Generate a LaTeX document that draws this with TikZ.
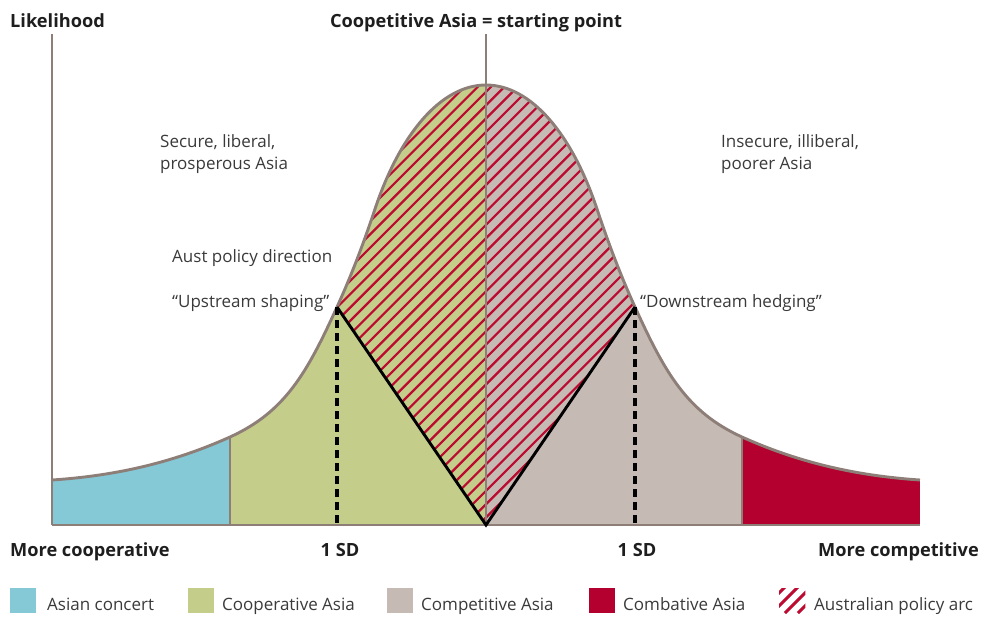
\documentclass[tikz,border=0pt]{standalone}
\usepackage{fontspec}
\setmainfont{Open Sans}
\definecolor{cblue}{HTML}{85C9D7}
\definecolor{cgreen}{HTML}{C4CE8A}
\definecolor{cgrey}{HTML}{C6BAB5}
\definecolor{cred}{HTML}{B3002E}
\definecolor{arcred}{HTML}{BC0A30}
\definecolor{edge}{HTML}{8E7E78}
\definecolor{txt}{HTML}{3A3A3A}
\definecolor{txtb}{HTML}{1E1E1E}
% the bell curve, drawn left to right as cubic segments
\def\bellline{(52,480)
  .. controls (112,476) and (170,464) .. (230,437)
  .. controls (285,412) and (307,373) .. (337,307)
  .. controls (350,278.4) and (362,248) .. (375,209)
  .. controls (400,134) and (441,85) .. (486,85)
  .. controls (531,85) and (572,134) .. (597,209)
  .. controls (610,248) and (622,278.4) .. (635,307)
  .. controls (665,373) and (687,412) .. (742,437)
  .. controls (802,464) and (860,476) .. (920,480)}
\def\bellarea{(52,525) -- (52,480)
  .. controls (112,476) and (170,464) .. (230,437)
  .. controls (285,412) and (307,373) .. (337,307)
  .. controls (350,278.4) and (362,248) .. (375,209)
  .. controls (400,134) and (441,85) .. (486,85)
  .. controls (531,85) and (572,134) .. (597,209)
  .. controls (610,248) and (622,278.4) .. (635,307)
  .. controls (665,373) and (687,412) .. (742,437)
  .. controls (802,464) and (860,476) .. (920,480) -- (920,525) -- cycle}
\begin{document}
\begin{tikzpicture}[x=1pt,y=-1pt,
  outline/.style={draw=edge, line width=2.9pt},
  hatchline/.style={draw=arcred, line width=2.2pt},
  limb/.style={draw=black, line width=2.9pt},
  sdline/.style={draw=black, line width=3.2pt, dash pattern=on 8pt off 5pt},
  lbl/.style={font=\fontsize{17}{22}\selectfont, text=txt, inner sep=0pt},
  axl/.style={font=\fontsize{18.2}{21}\selectfont\bfseries, text=txtb, inner sep=0pt},
  swatch/.style={minimum width=26pt, minimum height=25pt, inner sep=0pt, anchor=north west},
]
\useasboundingbox (0,0) rectangle (989,619);

% coloured bands under the curve
\begin{scope}
  \clip \bellarea;
  \fill[cblue]  (52,0)  rectangle (230,525);
  \fill[cgreen] (230,0) rectangle (486,525);
  \fill[cgrey]  (486,0) rectangle (742,525);
  \fill[cred]   (742,0) rectangle (920,525);
\end{scope}

% policy arc hatching
\begin{scope}
  \clip \bellarea;
  \clip (337,0) -- (337,307) -- (486,525) -- (635,307) -- (635,0) -- cycle;
  \foreach \k in {-120,-106.7,...,650}
    \draw[hatchline] (\k,525) -- ++(520,-520);
\end{scope}

% outlines and axes
\draw[outline] \bellline;
\draw[outline] (52,525) -- (920,525);
\draw[outline] (230,525) -- (230,437);
\draw[outline] (742,525) -- (742,437);
\draw[outline] (52,34) -- (52,525);
\draw[outline] (486,34) -- (486,525);

% policy direction limbs and 1 SD markers
\coordinate (upl) at (337,307);
\coordinate (dnr) at (635,307);
\coordinate (vtx) at (486,525);
\coordinate (sdl) at (337,525);
\coordinate (sdr) at (635,525);
\draw[limb] (upl) -- (vtx) -- (dnr);
\draw[sdline] (upl) -- (sdl);
\draw[sdline] (dnr) -- (sdr);

% axis titles
\node[axl, anchor=base west] (ylab) at (10,27) {Likelihood};
\node[axl, anchor=base] (start) at (476,27) {Coopetitive Asia = starting point};
\node[axl, anchor=base west] (coop) at (10,556) {More cooperative};
\node[axl, anchor=base east] (comp) at (979,556) {More competitive};
\node[axl, anchor=base] (sdlab1) at (340,556) {1 SD};
\node[axl, anchor=base] (sdlab2) at (637,556) {1 SD};

% annotations
\node[lbl, anchor=base west] (sec1) at (160,147) {Secure, liberal,};
\node[lbl, anchor=base west] (sec2) at (160,169) {prosperous Asia};
\node[lbl, anchor=base west] (ins1) at (721,147) {Insecure, illiberal,};
\node[lbl, anchor=base west] (ins2) at (721,169) {poorer Asia};
\node[lbl, anchor=base west] (aust) at (172,262) {Aust policy direction};
\node[lbl, anchor=base west] (ups) at (172,307) {“Upstream shaping”};
\node[lbl, anchor=base west] (dns) at (640,307) {“Downstream hedging”};

% legend
\node[swatch, fill=cblue]  (sw1) at (10,588) {};
\node[swatch, fill=cgreen] (sw2) at (188,588) {};
\node[swatch, fill=cgrey]  (sw3) at (387,588) {};
\node[swatch, fill=cred]   (sw4) at (589,588) {};
\node[swatch]              (sw5) at (779,588) {};
\begin{scope}
  \clip (sw5.south west) rectangle (sw5.north east);
  \foreach \k in {-20,-7,...,30}
    \draw[draw=arcred, line width=3pt] (779+\k,613) -- ++(30,-30);
\end{scope}
\node[lbl, anchor=base west] (lg1) at (47,610) {Asian concert};
\node[lbl, anchor=base west] (lg2) at (222,610) {Cooperative Asia};
\node[lbl, anchor=base west] (lg3) at (421,610) {Competitive Asia};
\node[lbl, anchor=base west] (lg4) at (623,610) {Combative Asia};
\node[lbl, anchor=base west] (lg5) at (814,610) {Australian policy arc};
\end{tikzpicture}
\end{document}
